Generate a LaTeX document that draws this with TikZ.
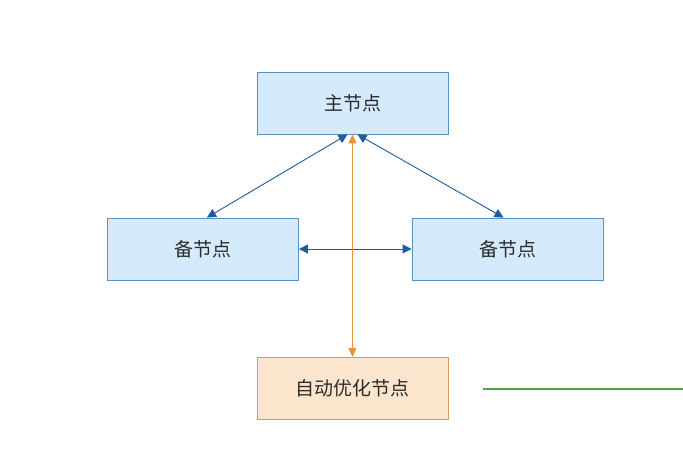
\documentclass[tikz,border=0pt]{standalone}
\usepackage{fontspec}
\newfontfamily\cjk{Noto Sans CJK SC}
\usetikzlibrary{arrows.meta,calc}
\definecolor{bfill}{HTML}{D5EBFB}
\definecolor{bdraw}{HTML}{5A92BE}
\definecolor{ofill}{HTML}{FCE5CD}
\definecolor{odraw}{HTML}{D49A5C}
\definecolor{barrow}{HTML}{1F5C9C}
\definecolor{oarrow}{HTML}{E8923A}
\definecolor{gcol}{RGB}{90,160,60}
\definecolor{txt}{HTML}{2B2B2B}
\begin{document}
\begin{tikzpicture}[x=1pt,y=-1pt,
  box/.style={draw=bdraw,fill=bfill,line width=0.9pt,minimum width=191pt,minimum height=62pt,inner sep=0pt,font=\cjk\fontsize{19}{21}\selectfont,text=txt},
  obox/.style={box,draw=odraw,fill=ofill},
  blink/.style={draw=barrow,line width=0.9pt,{Triangle[length=9pt,width=9pt]}-{Triangle[length=9pt,width=9pt]}},
  olink/.style={draw=oarrow,line width=1.3pt,{Triangle[length=9pt,width=8pt]}-{Triangle[length=9pt,width=8pt]}},
  gstyle/.style={color=gcol,line width=1.2pt}]
\useasboundingbox (0,0) rectangle (683,467);
\fill[white] (0,0) rectangle (683,467);
\node[box] (main) at (352.5,103) {主节点};
\node[box] (left) at (203,249) {备节点};
\node[box] (right) at (507.5,249) {备节点};
\node[obox] (auto) at (352.5,388.5) {自动优化节点};
\coordinate (g1) at (483,389);
\coordinate (g2) at (683,389);
\draw[blink] ($(main.south)+(-5,0)$) -- ($(left.north)+(4,0)$);
\draw[blink] ($(main.south)+(5,0)$) -- ($(right.north)+(-4,0)$);
\draw[blink] (left.east) -- (right.west);
\draw[olink] (main.south) -- (auto.north);
\draw[gstyle] (g1) -- (g2);
\end{tikzpicture}
\end{document}
